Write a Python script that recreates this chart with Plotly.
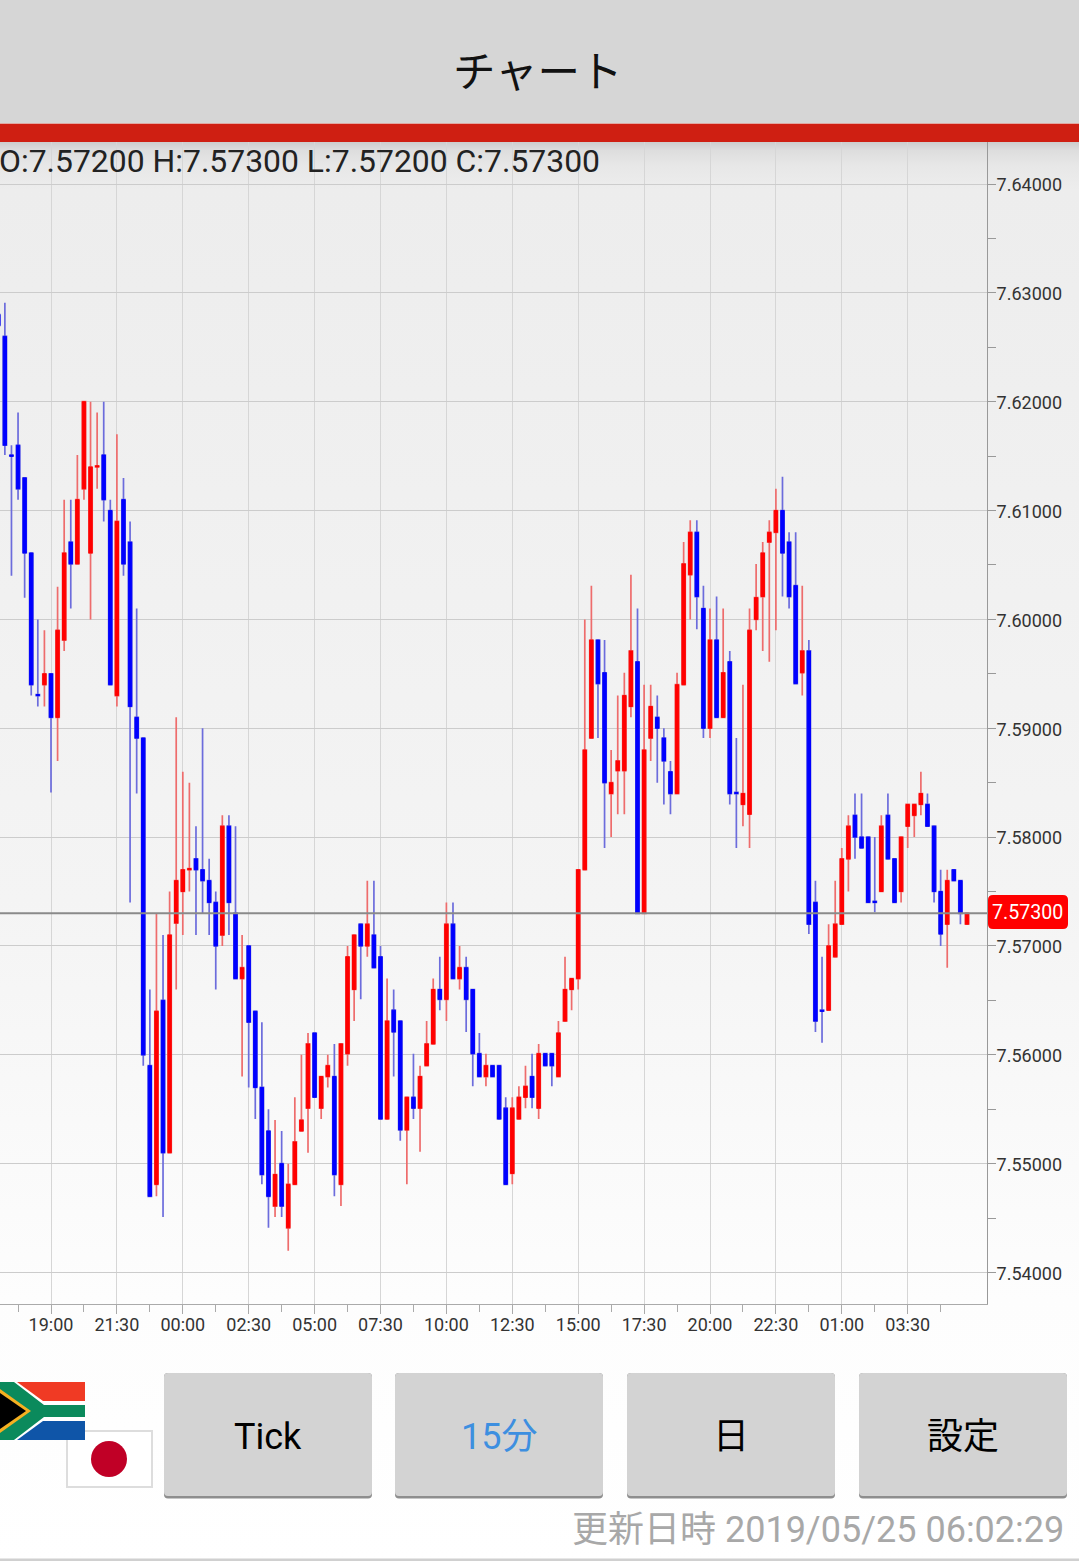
import plotly.graph_objects as go

W, H = 1079, 1561

body_top = [
    7.6280, 7.6260, 7.6151, 7.6160, 7.6130, 7.6061, 7.5931, 7.5950,
    7.5950, 7.5990, 7.6061, 7.6071, 7.6110, 7.6200, 7.6140, 7.6141,
    7.6151, 7.6100, 7.6090, 7.6110, 7.6071, 7.5910, 7.5891,
    7.5590, 7.5640, 7.5650, 7.5710, 7.5760, 7.5770, 7.5771, 7.5780,
    7.5770, 7.5760, 7.5740, 7.5810, 7.5810, 7.5730, 7.5680, 7.5700,
    7.5640, 7.5570, 7.5530, 7.5490, 7.5500, 7.5481, 7.5520, 7.5540,
    7.5610, 7.5620, 7.5580, 7.5590, 7.5580, 7.5610,
    7.5690, 7.5710, 7.5720, 7.5720, 7.5710, 7.5690, 7.5631, 7.5641,
    7.5631, 7.5561, 7.5561, 7.5580, 7.5610, 7.5660, 7.5660, 7.5720,
    7.5720, 7.5680, 7.5680, 7.5660, 7.5601, 7.5590, 7.5590, 7.5590,
    7.5551, 7.5551, 7.5561, 7.5571, 7.5580, 7.5601, 7.5601, 7.5601,
    7.5620, 7.5660, 7.5670, 7.5770,
    7.5880, 7.5981, 7.5981, 7.5951, 7.5850, 7.5870, 7.5930, 7.5971,
    7.5961, 7.5880, 7.5920, 7.5910, 7.5891, 7.5860, 7.5940, 7.6051,
    7.6080, 7.6080, 7.6010, 7.5981, 7.5981, 7.5951, 7.5961, 7.5841,
    7.5840, 7.5990, 7.6020, 7.6061, 7.6080, 7.6100, 7.6100, 7.6071,
    7.6031, 7.5971, 7.5971,
    7.5740, 7.5641, 7.5700, 7.5720, 7.5780, 7.5810, 7.5820, 7.5800,
    7.5800, 7.5741, 7.5810, 7.5820, 7.5780, 7.5800, 7.5830, 7.5830,
    7.5840, 7.5830, 7.5810, 7.5750, 7.5760, 7.5770, 7.5760, 7.5730,
]
body_bottom = [
    7.6270, 7.6160, 7.6150, 7.6120, 7.6061, 7.5940, 7.5930, 7.5940,
    7.5910, 7.5910, 7.5981, 7.6051, 7.6051, 7.6120, 7.6061, 7.6140,
    7.6110, 7.5940, 7.5930, 7.6051, 7.5920, 7.5891, 7.5600,
    7.5470, 7.5481, 7.5510, 7.5510, 7.5721, 7.5750, 7.5770, 7.5770,
    7.5760, 7.5740, 7.5700, 7.5710, 7.5740, 7.5670, 7.5670, 7.5630,
    7.5570, 7.5490, 7.5470, 7.5461, 7.5461, 7.5441, 7.5481, 7.5530,
    7.5551, 7.5561, 7.5551, 7.5580, 7.5490, 7.5481,
    7.5601, 7.5660, 7.5700, 7.5700, 7.5680, 7.5541, 7.5541, 7.5621,
    7.5531, 7.5531, 7.5551, 7.5551, 7.5590, 7.5610, 7.5651, 7.5651,
    7.5670, 7.5670, 7.5651, 7.5601, 7.5580, 7.5580, 7.5580, 7.5541,
    7.5481, 7.5491, 7.5541, 7.5561, 7.5561, 7.5551, 7.5590, 7.5590,
    7.5580, 7.5631, 7.5660, 7.5670,
    7.5770, 7.5891, 7.5941, 7.5850, 7.5840, 7.5861, 7.5861, 7.5920,
    7.5730, 7.5730, 7.5891, 7.5900, 7.5870, 7.5840, 7.5840, 7.5940,
    7.6041, 7.6021, 7.5900, 7.5900, 7.5910, 7.5910, 7.5840, 7.5840,
    7.5830, 7.5821, 7.6000, 7.6021, 7.6071, 7.6080, 7.6061, 7.6021,
    7.5941, 7.5951, 7.5720,
    7.5631, 7.5640, 7.5641, 7.5690, 7.5720, 7.5780, 7.5800, 7.5790,
    7.5740, 7.5740, 7.5750, 7.5780, 7.5740, 7.5750, 7.5810, 7.5820,
    7.5830, 7.5810, 7.5750, 7.5711, 7.5720, 7.5760, 7.5730, 7.5720,
]
high = [
    7.6290, 7.6291, 7.6160, 7.6190, 7.6130, 7.6061, 7.6000, 7.5990,
    7.5950, 7.6030, 7.6110, 7.6110, 7.6151, 7.6200, 7.6200, 7.6190,
    7.6200, 7.6110, 7.6170, 7.6130, 7.6090, 7.6010, 7.5891,
    7.5660, 7.5730, 7.5710, 7.5750, 7.5910, 7.5860, 7.5850, 7.5810,
    7.5900, 7.5780, 7.5750, 7.5820, 7.5820, 7.5810, 7.5710, 7.5700,
    7.5640, 7.5630, 7.5550, 7.5540, 7.5530, 7.5500, 7.5561, 7.5600,
    7.5620, 7.5620, 7.5580, 7.5600, 7.5610, 7.5610,
    7.5700, 7.5710, 7.5720, 7.5760, 7.5760, 7.5700, 7.5670, 7.5660,
    7.5631, 7.5561, 7.5601, 7.5590, 7.5631, 7.5670, 7.5690, 7.5740,
    7.5740, 7.5700, 7.5690, 7.5660, 7.5620, 7.5601, 7.5590, 7.5590,
    7.5561, 7.5561, 7.5571, 7.5590, 7.5601, 7.5610, 7.5601, 7.5601,
    7.5631, 7.5690, 7.5670, 7.5770,
    7.6000, 7.6031, 7.5981, 7.5981, 7.5880, 7.5930, 7.5951, 7.6041,
    7.6010, 7.5940, 7.5940, 7.5930, 7.5900, 7.5870, 7.5951, 7.6071,
    7.6091, 7.6091, 7.6031, 7.6010, 7.6021, 7.6010, 7.5971, 7.5891,
    7.5940, 7.6010, 7.6051, 7.6071, 7.6091, 7.6120, 7.6131, 7.6080,
    7.6080, 7.6031, 7.5981,
    7.5760, 7.5690, 7.5720, 7.5760, 7.5790, 7.5820, 7.5840, 7.5840,
    7.5800, 7.5800, 7.5820, 7.5840, 7.5780, 7.5800, 7.5830, 7.5830,
    7.5860, 7.5840, 7.5810, 7.5770, 7.5770, 7.5770, 7.5760, 7.5730,
]
low = [
    7.6260, 7.6151, 7.6040, 7.6110, 7.6020, 7.5930, 7.5920, 7.5920,
    7.5841, 7.5870, 7.5971, 7.6010, 7.6051, 7.6110, 7.6000, 7.6120,
    7.6090, 7.5940, 7.5920, 7.6040, 7.5740, 7.5840, 7.5590,
    7.5470, 7.5470, 7.5451, 7.5510, 7.5660, 7.5710, 7.5750, 7.5710,
    7.5730, 7.5710, 7.5660, 7.5700, 7.5710, 7.5670, 7.5580, 7.5570,
    7.5541, 7.5481, 7.5441, 7.5451, 7.5451, 7.5420, 7.5481, 7.5530,
    7.5510, 7.5561, 7.5541, 7.5570, 7.5470, 7.5461,
    7.5590, 7.5631, 7.5651, 7.5690, 7.5680, 7.5541, 7.5541, 7.5580,
    7.5521, 7.5481, 7.5541, 7.5511, 7.5590, 7.5610, 7.5641, 7.5631,
    7.5670, 7.5660, 7.5621, 7.5571, 7.5580, 7.5571, 7.5580, 7.5541,
    7.5481, 7.5481, 7.5541, 7.5551, 7.5551, 7.5541, 7.5590, 7.5571,
    7.5580, 7.5631, 7.5641, 7.5660,
    7.5770, 7.5891, 7.5891, 7.5790, 7.5800, 7.5821, 7.5821, 7.5910,
    7.5730, 7.5730, 7.5870, 7.5850, 7.5830, 7.5821, 7.5840, 7.5940,
    7.6000, 7.5991, 7.5891, 7.5891, 7.5910, 7.5910, 7.5830, 7.5790,
    7.5810, 7.5790, 7.5990, 7.5971, 7.5961, 7.5990, 7.6021, 7.6010,
    7.5941, 7.5930, 7.5711,
    7.5621, 7.5611, 7.5641, 7.5690, 7.5720, 7.5750, 7.5780, 7.5790,
    7.5740, 7.5731, 7.5750, 7.5780, 7.5740, 7.5740, 7.5790, 7.5800,
    7.5820, 7.5810, 7.5740, 7.5700, 7.5680, 7.5760, 7.5720, 7.5720,
]
# candles drawn red (close above open); all the others are blue
up_indices = [
    -1, 1, 2, 4, 5, 6, 7, 10, 16, 18, 19, 20, 21, 26, 29, 34, 36, 37, 38, 39, 41, 42,
    44, 45, 46, 48, 51, 54, 56, 57, 58, 60, 62, 66, 70, 71, 72, 74, 77, 78, 79, 80,
    81, 82, 85, 86, 87, 88, 90, 91, 95, 96, 97, 100, 102, 105, 106, 107, 108, 109,
    110, 114, 118, 119, 120, 121, 126, 129, 130, 131, 132, 136, 139,
]
candle_index = list(range(-8, len(body_top) - 8))
up = [i in up_indices for i in candle_index]
open_ = [b if u else t for t, b, u in zip(body_top, body_bottom, up)]
close = [t if u else b for t, b, u in zip(body_top, body_bottom, up)]

time_labels = ["19:00", "21:30", "00:00", "02:30", "05:00", "07:30", "10:00",
               "12:30", "15:00", "17:30", "20:00", "22:30", "01:00", "03:30"]
time_ticks = [10 * k for k in range(len(time_labels))]
price_ticks = [7.54, 7.55, 7.56, 7.57, 7.58, 7.59, 7.60, 7.61, 7.62, 7.63, 7.64]
last_price = 7.573
ohlc_text = "O:7.57200 H:7.57300 L:7.57200 C:7.57300"
updated_text = "更新日時 2019/05/25 06:02:29"
buttons = [("Tick", 164, 372, "#000000"), ("15分", 395, 603, "#3d8fe0"),
           ("日", 627, 835, "#000000"), ("設定", 859, 1067, "#000000")]


def X(px):
    return px / W


def Y(py):
    return 1 - py / H


def rect(x0, y0, x1, y1, fill, line=None, width=0):
    return dict(type="rect", xref="paper", yref="paper", x0=X(x0), x1=X(x1), y0=Y(y0), y1=Y(y1),
                fillcolor=fill, line=dict(color=line or fill, width=width), layer="above")


def poly(points, fill):
    d = "M" + " L".join(f"{X(x):.5f},{Y(y):.5f}" for x, y in points) + " Z"
    return dict(type="path", xref="paper", yref="paper", path=d, fillcolor=fill,
                line=dict(width=0), layer="above")


def round_rect(x0, y0, x1, y1, r, fill):
    rx, ry = r / W, r / H
    a, b, c, d = X(x0), X(x1), Y(y0), Y(y1)
    path = (f"M{a+rx},{c} L{b-rx},{c} Q{b},{c} {b},{c-ry} L{b},{d+ry} Q{b},{d} {b-rx},{d} "
            f"L{a+rx},{d} Q{a},{d} {a},{d+ry} L{a},{c-ry} Q{a},{c} {a+rx},{c} Z")
    return dict(type="path", xref="paper", yref="paper", path=path, fillcolor=fill,
                line=dict(width=0), layer="above")


CJK = "Noto Sans CJK JP"
shapes = [
    rect(0, 0, W, 123, "#d6d6d6"),
    rect(0, 123, W, 124, "#e0a8a2"),
    rect(0, 124, W, 142, "#cf1f12"),
    dict(type="line", xref="paper", yref="y", x0=0, x1=X(987), y0=last_price, y1=last_price,
         line=dict(color="#8a8a8a", width=2), layer="above"),
    round_rect(988, 895, 1068, 929, 5, "#ff0000"),
    # Japanese flag
    rect(67, 1431, 152, 1487, "#ffffff", "#dddddd", 2),
    dict(type="circle", xref="paper", yref="paper", x0=X(91), x1=X(127), y0=Y(1441), y1=Y(1477),
         fillcolor="#c00026", line=dict(width=0), layer="above"),
    # South African flag
    rect(0, 1382, 85, 1440, "#ffffff"),
    poly([(17, 1382), (85, 1382), (85, 1401), (43, 1401)], "#f03a24"),
    poly([(17, 1440), (85, 1440), (85, 1421), (43, 1421)], "#0f55a8"),
    poly([(0, 1382), (14, 1382), (44, 1405), (85, 1405), (85, 1417), (44, 1417), (14, 1440), (0, 1440)], "#0b8a5c"),
    poly([(0, 1389), (31, 1411), (0, 1433)], "#f5b021"),
    poly([(0, 1393), (26, 1411), (0, 1429)], "#000000"),
    # bottom rule
    rect(0, 1558.5, W, H, "#d0d0d0"),
]
annotations = [
    dict(text="チャート", x=X(538), y=Y(69), font=dict(family=CJK, size=42.5, color="#111111")),
    dict(text=ohlc_text, x=X(-2), y=Y(161), xanchor="left",
         font=dict(family="Roboto", size=31.9, color="#222222")),
    dict(text=f"{last_price:.5f}", x=X(1027.5), y=Y(912),
         font=dict(family="Roboto", size=19.6, color="#ffffff")),
    dict(text=updated_text, x=X(1064.5), y=Y(1530), xanchor="right",
         font=dict(family=f"Roboto, {CJK}", size=36, color="#a8a8a8")),
]
for label, x0, x1, colour in buttons:
    shapes.append(round_rect(x0, 1373, x1, 1498.5, 4, "#8e8e8e"))
    shapes.append(round_rect(x0, 1373, x1, 1496, 4, "#d3d3d3"))
    annotations.append(dict(text=label, x=X((x0 + x1) / 2), y=Y(1437),
                            font=dict(family=f"Roboto, {CJK}", size=36, color=colour)))
for a in annotations:
    a.update(xref="paper", yref="paper", showarrow=False, yanchor="middle", borderpad=0)
    a.setdefault("xanchor", "center")

fig = go.Figure()
fig.add_trace(go.Candlestick(
    x=candle_index, open=open_, high=high, low=low, close=close,
    increasing=dict(line=dict(color="#ee6c6c", width=1.7), fillcolor="#ee6c6c"),
    decreasing=dict(line=dict(color="#6c6cdc", width=1.7), fillcolor="#6c6cdc"),
    hoverinfo="skip", showlegend=False))
fig.add_trace(go.Candlestick(
    x=candle_index, open=open_, high=body_top, low=body_bottom, close=close,
    increasing=dict(line=dict(color="#ff0000", width=1), fillcolor="#ff0000"),
    decreasing=dict(line=dict(color="#0000ff", width=1), fillcolor="#0000ff"),
    hoverinfo="skip", showlegend=False))

fig.update_layout(
    width=W, height=H, autosize=False, margin=dict(l=0, r=0, t=0, b=0, pad=0),
    paper_bgcolor="rgba(0,0,0,0)", plot_bgcolor="rgba(0,0,0,0)",
    showlegend=False, boxgap=0.28, boxmode="overlay",
    shapes=shapes, annotations=annotations,
    font=dict(family="Roboto", color="#333333"),
    xaxis=dict(
        domain=[0, X(987)], range=[(0 - 51) / 6.59, (987 - 51) / 6.59],
        rangeslider=dict(visible=False), tickmode="array", tickvals=time_ticks, ticktext=time_labels,
        ticks="outside", ticklen=9, tickwidth=1, tickcolor="#aaaaaa", ticklabelstandoff=-5,
        tickfont=dict(size=18, family="Roboto", color="#333333"),
        showgrid=True, gridcolor="#d6d6d6", gridwidth=1, zeroline=False,
        showline=True, linecolor="#aaaaaa", linewidth=1,
        minor=dict(tickmode="array", tickvals=[10 * k + 5 for k in range(-2, 14)], ticks="outside",
                   ticklen=7, tickcolor="#aaaaaa", showgrid=False),
    ),
    yaxis=dict(
        domain=[Y(1304), Y(142)],
        range=[7.64 - (1304 - 184) / 10885, 7.64 - (142 - 184) / 10885],
        side="right", tickmode="array", tickvals=price_ticks,
        ticktext=[f"{v:.5f}" for v in price_ticks],
        ticks="outside", ticklen=8, tickwidth=1, tickcolor="#999999",
        ticklabelstandoff=-3, ticklabelshift=1,
        tickfont=dict(size=18, family="Roboto", color="#333333"),
        showgrid=True, gridcolor="#cccccc", gridwidth=1, zeroline=False,
        showline=True, linecolor="#999999", linewidth=1, automargin=False,
        minor=dict(tickmode="array", tickvals=[7.535 + 0.01 * k for k in range(11)], ticks="outside",
                   ticklen=8, tickcolor="#999999", showgrid=False),
    ),
)

page_style = (
    "document.documentElement.style.margin='0';"
    "document.body.style.margin='0';document.body.style.overflow='hidden';"
    "document.documentElement.style.overflow='hidden';"
    "document.body.style.height='1561px';"
    "document.documentElement.style.background='linear-gradient(to bottom,"
    "#d6d6d6 0,#d6d6d6 142px,#cdcdcd 142px,#dddddd 150px,#e7e7e7 165px,#ededed 190px,#f4f4f4 900px,#fdfdfd 1300px,#ffffff 1561px)';"
)
fig.write_html("out.html", post_script=page_style, config=dict(displayModeBar=False))
